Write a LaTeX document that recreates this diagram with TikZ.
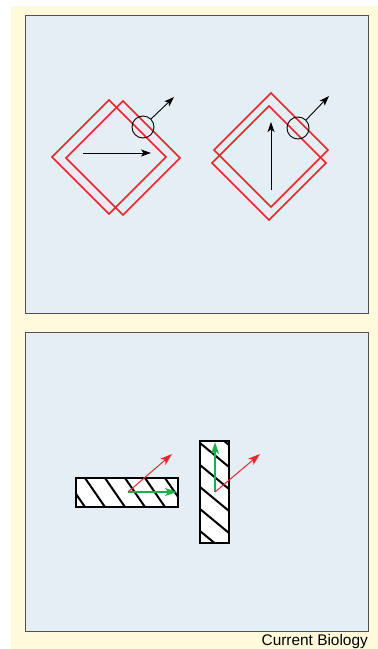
\documentclass[tikz,border=0pt]{standalone}
\usepackage{fontspec}
\setmainfont{Liberation Sans}
\usetikzlibrary{arrows.meta}
\definecolor{cream}{HTML}{FFFADC}
\definecolor{panel}{HTML}{E5EEF4}
\definecolor{frame}{HTML}{505050}
\definecolor{dred}{HTML}{E8262B}
\definecolor{dgreen}{HTML}{1FAE4E}
\begin{document}
\begin{tikzpicture}[x=1pt,y=-1pt,
  panelbox/.style={draw=frame,line width=1.3pt,fill=panel},
  sq/.style={draw=dred,line width=1.6pt},
  blk/.style={draw=black,line width=0.9pt,-{Stealth[length=10pt,width=7pt,inset=2.5pt]}},
  ring/.style={draw=black,line width=0.9pt},
  rarr/.style={draw=dred,line width=1pt,-{Stealth[length=12pt,width=8pt,inset=3pt]}},
  garr/.style={draw=dgreen,line width=1.5pt,-{Stealth[length=12pt,width=8pt,inset=3pt]}},
  bar/.style={draw=black,line width=1.3pt},
  hatch/.style={draw=black,line width=2pt}]
\useasboundingbox (0,0) rectangle (378,649);
\fill[cream] (11,6) rectangle (378,649);
% panels
\node[panelbox,minimum width=343pt,minimum height=298pt,inner sep=0pt,anchor=north west] (top) at (25,15) {};
\node[panelbox,minimum width=343pt,minimum height=299pt,inner sep=0pt,anchor=north west] (bot) at (25,332) {};
\node[anchor=base east,font=\fontsize{15.4}{18}\selectfont,inner sep=0pt] (lab) at (368,645) {Current Biology};
% left pair of squares
\draw[sq] (52,157) -- (109,100) -- (166,157) -- (109,214) -- cycle;
\draw[sq] (66,158) -- (123,101) -- (180,158) -- (123,215) -- cycle;
\coordinate (h1) at (83,153);
\coordinate (h2) at (151,153);
\draw[blk] (h1) -- (h2);
\node[ring,circle,minimum size=22pt,inner sep=0pt] (r1) at (143,127) {};
\coordinate (t1) at (174,97);
\draw[blk] (r1.45) -- (t1);
% right pair of squares
\draw[sq] (214,150) -- (271,93) -- (328,150) -- (271,207) -- cycle;
\draw[sq] (212,163) -- (269,106) -- (326,163) -- (269,220) -- cycle;
\coordinate (v1) at (271,190);
\coordinate (v2) at (271,122);
\draw[blk] (v1) -- (v2);
\node[ring,circle,minimum size=22pt,inner sep=0pt] (r2) at (298,128) {};
\coordinate (t2) at (329,96);
\draw[blk] (r2.45) -- (t2);
% horizontal bar
\node[bar,fill=white,minimum width=102pt,minimum height=29pt,inner sep=0pt,anchor=north west] (hb) at (76,478) {};
\begin{scope}
\clip (76,478) rectangle (178,507);
\foreach \x in {45,65,...,185} \draw[hatch] (\x,478) -- ++(20,29);
\end{scope}
\draw[bar] (76,478) rectangle (178,507);
\coordinate (o1) at (128,492);
\coordinate (g1) at (177,492);
\coordinate (e1) at (172,454);
\draw[garr] (o1) -- (g1);
\draw[rarr] (o1) -- (e1);
% vertical bar
\node[bar,fill=white,minimum width=29pt,minimum height=102pt,inner sep=0pt,anchor=north west] (vb) at (200,441) {};
\begin{scope}
\clip (200,441) rectangle (229,543);
\foreach \y in {399,421,...,553} \draw[hatch] (200,\y) -- ++(29,24);
\end{scope}
\draw[bar] (200,441) rectangle (229,543);
\coordinate (o2) at (215,492);
\coordinate (g2) at (215,442);
\coordinate (e2) at (260,454);
\draw[garr] (o2) -- (g2);
\draw[rarr] (o2) -- (e2);
\end{tikzpicture}
\end{document}
